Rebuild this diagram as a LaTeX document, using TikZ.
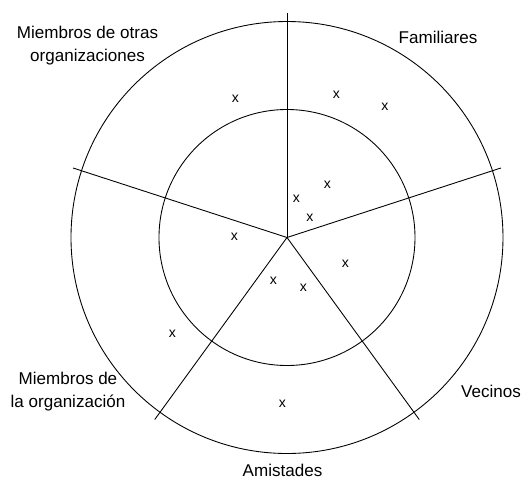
\documentclass[tikz,border=0pt]{standalone}
\usepackage{fontspec}
\setmainfont{Liberation Sans}
\tikzset{
  etiqueta/.style={align=center,inner sep=0pt,font=\fontsize{9.7}{13}\selectfont},
  marca/.style={inner sep=0pt,font=\fontsize{8}{9}\selectfont}
}
\begin{document}
\begin{tikzpicture}[line width=0.5pt]
  \useasboundingbox (-5.74,-4.85) rectangle (4.70,4.75);
  \coordinate (centro) at (0,0);
  \draw (centro) circle (4.32);
  \draw (centro) circle (2.56);
  \foreach \ang/\nombre in {90/n,18/e,-54/se,-126/so,162/o}
    \draw (centro) -- (\ang:4.5) coordinate (radio-\nombre);
  \node[etiqueta] (familiares) at (3.02,4.01) {Familiares};
  \node[etiqueta] (otras) at (-3.99,3.84) {Miembros de otras\\organizaciones};
  \node[etiqueta] (organizacion) at (-4.38,-3.09) {Miembros de\\la organización};
  \node[etiqueta] (amistades) at (-0.09,-4.65) {Amistades};
  \node[etiqueta] (vecinos) at (4.08,-3.07) {Vecinos};
  \foreach \px/\py [count=\i] in {-1.03/2.78,0.99/2.85,1.96/2.62,0.81/1.06,0.19/0.77,0.46/0.40,-1.05/0.02,1.17/-0.53,-0.27/-0.87,0.33/-1.00,-2.29/-1.92,-0.09/-3.32}
    \node[marca] (x\i) at (\px,\py) {x};
\end{tikzpicture}
\end{document}
